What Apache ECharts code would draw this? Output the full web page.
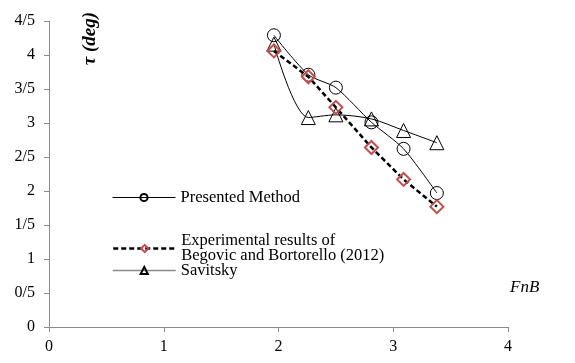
<!DOCTYPE html>
<html>
<head>
<meta charset="utf-8">
<script src="https://cdn.jsdelivr.net/npm/echarts@6/dist/echarts.min.js"></script>
<style>
  html, body { margin: 0; padding: 0; background: #fff; }
  #chart { width: 575px; height: 363px; }
</style>
</head>
<body>
<div id="chart"></div>
<script>
// Beam Froude number samples
var fnB = [1.96, 2.26, 2.50, 2.81, 3.09, 3.38];
// Trim angle tau (deg) per method
var presented = [4.29, 3.71, 3.52, 3.01, 2.62, 1.97];
var experimental = [4.06, 3.68, 3.23, 2.64, 2.17, 1.77];
var savitsky = [4.16, 3.08, 3.12, 3.06, 2.89, 2.71];
// Y tick labels written with "/" as the decimal separator
var yTickLabels = ['0', '0/5', '1', '1/5', '2', '2/5', '3', '3/5', '4', '4/5'];
var xTickLabels = ['0', '1', '2', '3', '4'];

var seriesNames = ['Presented Method', 'Experimental results of Begovic and Bortorello (2012)', 'Savitsky'];

function pairs(ys) {
  return fnB.map(function (x, i) { return [x, ys[i]]; });
}

var font = '"Liberation Serif", "Times New Roman", serif';
var axisGrey = '#8c8c8c';

var chart = echarts.init(document.getElementById('chart'), null, { renderer: 'canvas' });

var legendBase = {
  orient: 'vertical',
  left: 107,
  itemWidth: 63,
  itemHeight: 9,
  selectedMode: false,
  textStyle: { fontFamily: font, fontSize: 16.5, color: '#000' }
};

chart.setOption({
  animation: false,
  backgroundColor: '#fff',
  grid: { left: 49, right: 67, top: 21, bottom: 36, containLabel: false },
  xAxis: {
    type: 'value', min: 0, max: 4, interval: 1,
    axisLine: { lineStyle: { color: axisGrey, width: 1 } },
    axisTick: { show: true, length: 5, lineStyle: { color: axisGrey } },
    splitLine: { show: false },
    axisLabel: {
      fontFamily: font, fontSize: 16, color: '#000', margin: 12,
      formatter: function (v) { return xTickLabels[Math.round(v)]; }
    }
  },
  yAxis: {
    type: 'value', min: 0, max: 4.5, interval: 0.5,
    axisLine: { show: true, lineStyle: { color: axisGrey, width: 1 } },
    axisTick: { show: true, length: 5, lineStyle: { color: axisGrey } },
    splitLine: { show: false },
    axisLabel: {
      fontFamily: font, fontSize: 16, color: '#000', margin: 14,
      formatter: function (v) { return yTickLabels[Math.round(v / 0.5)]; }
    }
  },
  legend: [
    Object.assign({}, legendBase, {
      top: 184,
      data: [{ name: seriesNames[0], lineStyle: { width: 1 } }]
    }),
    Object.assign({}, legendBase, {
      top: 221,
      data: [{ name: seriesNames[1], lineStyle: { width: 2.5 } }],
      formatter: function () { return 'Experimental results of\nBegovic and Bortorello (2012)'; },
      textStyle: { fontFamily: font, fontSize: 16.5, color: '#000', lineHeight: 15, padding: [15, 0, 0, 0] }
    }),
    Object.assign({}, legendBase, {
      top: 257,
      data: [{ name: seriesNames[2], lineStyle: { color: '#8a8a8a', width: 1.5 } }]
    })
  ],
  graphic: [
    {
      type: 'text', left: 81, top: 12, rotation: Math.PI / 2,
      style: { text: 'τ (deg)', font: 'italic bold 19px ' + font, fill: '#000' }
    },
    {
      type: 'text', left: 510, top: 279,
      style: { text: 'FnB', font: 'italic 17px ' + font, fill: '#000' }
    }
  ],
  series: [
    {
      name: seriesNames[0], type: 'line', smooth: 0.25,
      data: pairs(presented),
      symbol: 'circle', symbolSize: 13,
      lineStyle: { color: '#000', width: 1 },
      itemStyle: { color: 'rgba(255,255,255,0)', borderColor: '#000', borderWidth: 1 },
      z: 3
    },
    {
      name: seriesNames[1], type: 'line',
      data: pairs(experimental),
      symbol: 'diamond', symbolSize: 13,
      lineStyle: { color: '#000', width: 2.5, type: [5, 3] },
      itemStyle: { color: 'rgba(255,255,255,0)', borderColor: '#c0504d', borderWidth: 2 },
      z: 4
    },
    {
      name: seriesNames[2], type: 'line', smooth: 0.3,
      data: pairs(savitsky),
      symbol: 'triangle', symbolSize: 14,
      lineStyle: { color: '#000', width: 1 },
      itemStyle: { color: 'rgba(255,255,255,0)', borderColor: '#000', borderWidth: 1 },
      z: 2
    }
  ]
});
</script>
</body>
</html>
